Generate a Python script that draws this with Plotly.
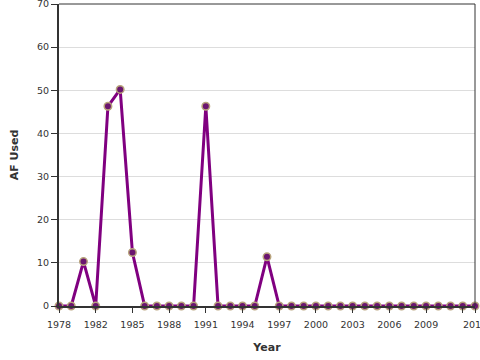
import plotly.graph_objects as go

# Data: acre-feet used per year (points dated at year end)
years = list(range(1978, 2013))
af_used = [0, 0, 10.3, 0, 46.3, 50.2, 12.4, 0, 0, 0, 0, 0, 46.3, 0, 0, 0, 0, 11.4,
           0, 0, 0, 0, 0, 0, 0, 0, 0, 0, 0, 0, 0, 0, 0, 0, 0]
dates = [f"{y}-12-31" for y in years]

# X ticks: min/max of data plus every 3 years from 1982 (2012 label hidden, as in the original)
tick_vals = ["1978-12-31"] + [f"{y}-01-01" for y in range(1982, 2013, 3)] + ["2012-12-31"]
tick_text = ["1978", "1982", "1985", "1988", "1991", "1994", "1997", "2000", "2003",
             "2006", "2009", "", "2012"]

y_ticks = [0, 10, 20, 30, 40, 50, 60, 70]

font_family = "DejaVu Sans"
axis_color = "#333333"

fig = go.Figure()
fig.add_trace(go.Scatter(
    x=dates, y=af_used, mode="lines+markers",
    line=dict(color="#800080", width=3),
    marker=dict(size=7.5, color="#6b1570", line=dict(color="#b8a47c", width=1.5)),
    cliponaxis=False, showlegend=False,
))

fig.update_layout(
    width=480, height=360,
    margin=dict(l=59, r=5, t=4, b=54, autoexpand=False),
    paper_bgcolor="white", plot_bgcolor="white",
    font=dict(family=font_family, size=10, color=axis_color),
    xaxis=dict(
        type="date", range=[dates[0], dates[-1]], automargin=False,
        tickmode="array", tickvals=tick_vals, ticktext=tick_text,
        ticklabeloverflow="allow", ticklabelstandoff=4,
        ticks="outside", ticklen=5, tickwidth=1, tickcolor=axis_color,
        showgrid=False, zeroline=False,
        showline=True, linecolor=axis_color, linewidth=2,
        tickfont=dict(size=9.5, color=axis_color),
        title=dict(text="<b>Year</b>", font=dict(size=11, color=axis_color), standoff=14),
    ),
    yaxis=dict(
        range=[0, 70], tickmode="array", tickvals=y_ticks, automargin=False,
        ticklabeloverflow="allow",
        ticks="outside", ticklen=6, tickwidth=1, tickcolor=axis_color,
        showgrid=True, gridcolor="#dddddd", gridwidth=1, zeroline=False,
        showline=True, linecolor=axis_color, linewidth=2,
        tickfont=dict(size=9.5, color=axis_color),
        title=dict(text="<b>AF Used</b>", font=dict(size=11, color=axis_color), standoff=16),
    ),
    shapes=[
        dict(type="line", xref="paper", yref="paper", x0=0, x1=1, y0=1, y1=1,
             line=dict(color=axis_color, width=1)),
        dict(type="line", xref="paper", yref="paper", x0=1, x1=1, y0=0, y1=1,
             line=dict(color=axis_color, width=1)),
    ],
)

fig.write_html("out.html", config={"displayModeBar": False},
               post_script="document.body.style.margin='0';")
